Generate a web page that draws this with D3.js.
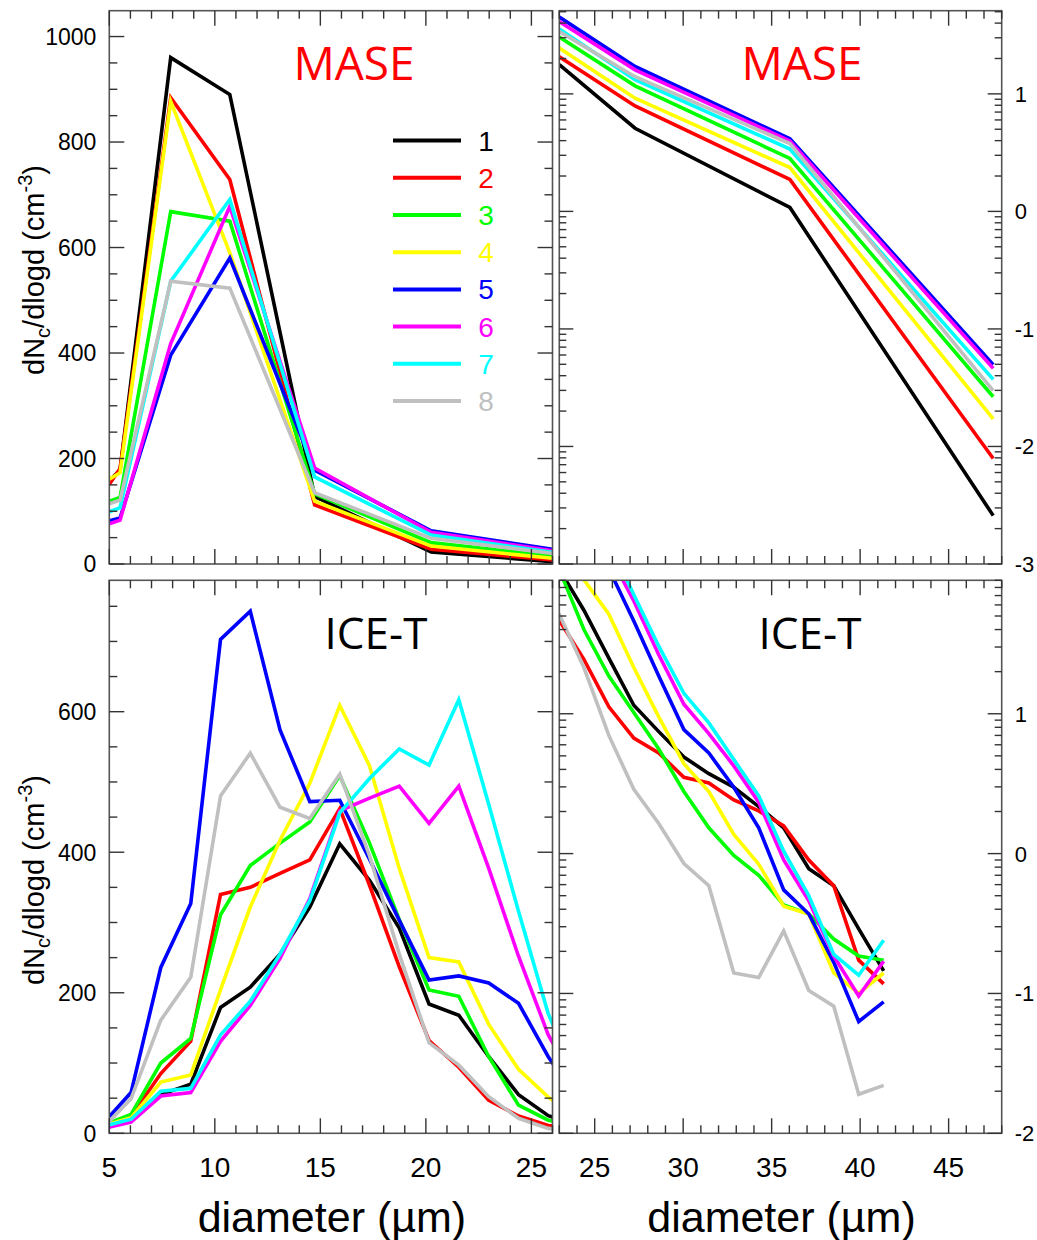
<!DOCTYPE html>
<html lang="en">
<head>
<meta charset="UTF-8" />
<title>MASE / ICE-T size distributions</title>
<style>
  body { margin: 0; background: #fff; }
  svg { display: block; font-family: "Liberation Sans", Arial, sans-serif; }
</style>
</head>
<body>
<svg id="chart"></svg>
<script src="https://d3js.org/d3.v7.min.js"></script>
<script>
const width = 1037, height = 1240;

const seriesNames = ["1", "2", "3", "4", "5", "6", "7", "8"];
const seriesColors = ["#000000", "#ff0000", "#00ff00", "#ffff00", "#0000ff", "#ff00ff", "#00ffff", "#c0c0c0"];

// MASE, linear panel (diameter in um, dNc/dlogd in cm-3)
const maseLinDiam = [5.0, 5.51, 7.91, 10.71, 14.73, 20.25, 26.0];
const maseLin = [
  [158, 178, 960, 890, 128, 23, 4.4],
  [151, 181, 884, 729, 112, 28, 7.6],
  [119, 126, 668, 650, 133, 40.5, 15],
  [161, 173, 877, 590, 119, 34, 10.8],
  [82, 87, 396, 580, 178, 63, 28],
  [76, 83, 418, 678, 182, 60, 25],
  [99, 107, 536, 691, 165, 55, 22],
  [114, 121, 536, 523, 135, 48.7, 20]
];

// MASE, log panel
const maseLogDiam = [23.0, 27.28, 36.03, 47.52];
const maseLog = [
  [17.7, 5.1, 1.08, 0.00258],
  [20.7, 7.9, 1.87, 0.00789],
  [30.4, 11.7, 2.82, 0.0265],
  [24.5, 9.18, 2.36, 0.0172],
  [45.0, 17.1, 4.15, 0.0497],
  [41.2, 16.0, 3.97, 0.0462],
  [35.6, 13.2, 3.39, 0.0372],
  [33.9, 14.0, 3.78, 0.0299]
];

// ICE-T, one set of bins drawn in both panels
const iceDiam = [4.62, 6.03, 7.44, 8.86, 10.27, 11.68, 13.09, 14.5, 15.92, 17.33, 18.74, 20.15, 21.56,
  22.98, 24.39, 25.8, 27.21, 28.62, 30.04, 31.45, 32.86, 34.27, 35.68, 37.1, 38.51, 39.92, 41.33];
const iceVals = [
  [7.4, 17, 55, 70, 179, 208, 255, 322, 412, 360, 292, 184, 168, 109, 55, 25, 11.5, 7.45, 4.9, 3.73, 2.98, 2.17, 1.53, 0.78, 0.59, 0.29, 0.145],
  [7.6, 24, 85, 131, 340, 350, 370, 389, 462, 353, 237, 132, 94, 47, 24.5, 11.2, 6.7, 5.24, 3.51, 3.2, 2.42, 2.02, 1.58, 0.9, 0.59, 0.173, 0.117],
  [10.6, 27, 100, 135, 311, 381, 413, 443, 509, 413, 304, 204, 195, 109, 40, 18.6, 10.2, 5.6, 2.78, 1.53, 0.97, 0.7, 0.43, 0.37, 0.245, 0.185, 0.173],
  [9.7, 22, 73, 83, 204, 322, 417, 498, 609, 523, 377, 250, 244, 155, 91, 51.5, 21.4, 9.5, 4.4, 2.78, 1.37, 0.84, 0.42, 0.37, 0.14, 0.1, 0.14],
  [11, 58, 236, 327, 703, 743, 574, 472, 474, 390, 303, 218, 224, 214, 185, 109, 46, 18.6, 7.7, 5.24, 2.98, 1.53, 0.55, 0.37, 0.167, 0.063, 0.087],
  [6.4, 16, 53, 58, 131, 182, 249, 334, 459, 477, 494, 441, 494, 377, 252, 140, 64, 26.4, 11.7, 7.2, 4.24, 2.33, 0.9, 0.46, 0.185, 0.096, 0.17],
  [9, 20, 60, 64, 140, 188, 255, 331, 456, 505, 547, 524, 617, 468, 316, 170, 71, 30.4, 14, 8.6, 4.7, 2.59, 1.04, 0.5, 0.19, 0.135, 0.24],
  [5.2, 49, 161, 222, 480, 541, 464, 448, 511, 395, 255, 129, 97, 52, 21.4, 7, 2.88, 1.64, 0.85, 0.59, 0.14, 0.13, 0.28, 0.105, 0.081, 0.019, 0.022]
];

const yTicksTop = [0, 200, 400, 600, 800, 1000];
const yTicksBottom = [0, 200, 400, 600];
const xTicksLeft = [5, 10, 15, 20, 25];
const xTicksRight = [25, 30, 35, 40, 45];
const expTicksTop = [1, 0, -1, -2, -3];
const expTicksBottom = [1, 0, -1, -2];

const svg = d3.select("#chart").attr("width", width).attr("height", height);

const panels = [
  { id: "tl", x0: 109.3, x1: 552.5, y0: 10.7, y1: 564, xDom: [5, 26], log: false, yDom: [0, 1049],
    diam: maseLinDiam, vals: maseLin, title: "MASE", titleColor: "#ff0000", titleX: 354, titleSize: 46,
    yLabels: yTicksTop, xLabels: null, yTitleY: 270 },
  { id: "tr", x0: 559.3, x1: 1001.7, y0: 10.7, y1: 564, xDom: [23, 48], log: true, yDom: [0.001, 51],
    diam: maseLogDiam, vals: maseLog, title: "MASE", titleColor: "#ff0000", titleX: 802, titleSize: 46,
    yLabels: expTicksTop, xLabels: null },
  { id: "bl", x0: 109.3, x1: 552.5, y0: 580.3, y1: 1133.3, xDom: [5, 26], log: false, yDom: [0, 787],
    diam: iceDiam, vals: iceVals, title: "ICE-T", titleColor: "#000000", titleX: 376, titleSize: 44,
    yLabels: yTicksBottom, xLabels: xTicksLeft, yTitleY: 880 },
  { id: "br", x0: 559.3, x1: 1001.7, y0: 580.3, y1: 1133.3, xDom: [23, 48], log: true, yDom: [0.01, 90],
    diam: iceDiam, vals: iceVals, title: "ICE-T", titleColor: "#000000", titleX: 810, titleSize: 44,
    yLabels: expTicksBottom, xLabels: xTicksRight }
];

const defs = svg.append("defs");

panels.forEach((p) => {
  const x = d3.scaleLinear().domain(p.xDom).range([p.x0, p.x1]);
  const y = (p.log ? d3.scaleLog() : d3.scaleLinear()).domain(p.yDom).range([p.y1, p.y0]);
  const g = svg.append("g");

  defs.append("clipPath").attr("id", "clip-" + p.id)
    .append("rect").attr("x", p.x0).attr("y", p.y0)
    .attr("width", p.x1 - p.x0).attr("height", p.y1 - p.y0);

  // series lines
  const line = d3.line().x((d) => x(d[0])).y((d) => y(d[1]));
  g.append("g").attr("clip-path", `url(#clip-${p.id})`)
    .selectAll("path")
    .data(p.vals)
    .join("path")
    .attr("fill", "none")
    .attr("stroke", (d, i) => seriesColors[i])
    .attr("stroke-width", 3.6)
    .attr("d", (d) => line(d.map((v, i) => [p.diam[i], v])));

  // frame
  g.append("rect").attr("x", p.x0).attr("y", p.y0)
    .attr("width", p.x1 - p.x0).attr("height", p.y1 - p.y0)
    .attr("fill", "none").attr("stroke", "#555").attr("stroke-width", 1.6);

  const ticks = g.append("g").attr("stroke", "#333").attr("stroke-width", 1.4);

  // x ticks, every 1 um, long every 5
  d3.range(Math.ceil(p.xDom[0]), Math.floor(p.xDom[1]) + 1).forEach((v) => {
    const len = v % 5 === 0 ? 15 : 8;
    const px = x(v);
    ticks.append("line").attr("x1", px).attr("x2", px).attr("y1", p.y1).attr("y2", p.y1 - len);
    ticks.append("line").attr("x1", px).attr("x2", px).attr("y1", p.y0).attr("y2", p.y0 + len);
  });

  // y ticks
  let yt = [];
  if (p.log) {
    const e0 = Math.floor(Math.log10(p.yDom[0])), e1 = Math.ceil(Math.log10(p.yDom[1]));
    d3.range(e0, e1 + 1).forEach((e) => {
      d3.range(1, 10).forEach((m) => {
        const v = m * Math.pow(10, e);
        if (v >= p.yDom[0] && v <= p.yDom[1]) yt.push([v, m === 1 ? 14 : 7]);
      });
    });
  } else {
    yt = d3.range(0, p.yDom[1], 50).map((v) => [v, v % 200 === 0 ? 15 : 8]);
  }
  yt.forEach(([v, len]) => {
    const py = y(v);
    ticks.append("line").attr("x1", p.x0).attr("x2", p.x0 + len).attr("y1", py).attr("y2", py);
    ticks.append("line").attr("x1", p.x1).attr("x2", p.x1 - len).attr("y1", py).attr("y2", py);
  });

  // y tick labels
  if (p.log) {
    g.append("g").selectAll("text").data(p.yLabels).join("text")
      .attr("x", p.x1 + 13).attr("y", (d) => y(Math.pow(10, d)))
      .attr("dy", "0.36em").attr("font-size", 22).attr("fill", "#000")
      .text((d) => d);
  } else {
    g.append("g").selectAll("text").data(p.yLabels).join("text")
      .attr("x", p.x0 - 13).attr("y", (d) => y(d))
      .attr("dy", "0.36em").attr("text-anchor", "end").attr("font-size", 23).attr("fill", "#000")
      .text((d) => d);
    const yt2 = g.append("text")
      .attr("transform", `translate(44,${p.yTitleY}) rotate(-90)`)
      .attr("text-anchor", "middle").attr("font-size", 29).attr("fill", "#000");
    yt2.append("tspan").text("dN");
    yt2.append("tspan").attr("font-size", 20).attr("dy", 6).text("c");
    yt2.append("tspan").attr("dy", -6).text("/dlogd (cm");
    yt2.append("tspan").attr("font-size", 20).attr("dy", -12).text("-3");
    yt2.append("tspan").attr("dy", 12).text(")");
  }

  // x tick labels and title
  if (p.xLabels) {
    g.append("g").selectAll("text").data(p.xLabels).join("text")
      .attr("x", (d) => x(d)).attr("y", p.y1 + 44)
      .attr("text-anchor", "middle").attr("font-size", 28).attr("fill", "#000")
      .text((d) => d);
    g.append("text")
      .attr("x", (p.x0 + p.x1) / 2 + 1).attr("y", 1232)
      .attr("text-anchor", "middle").attr("font-size", 43).attr("fill", "#000")
      .text("diameter (µm)");
  }

  // panel title
  g.append("text")
    .attr("x", p.titleX).attr("y", p.y0 + 69)
    .attr("text-anchor", "middle")
    .attr("font-family", "'Open Sans', sans-serif")
    .attr("font-size", p.titleSize).attr("fill", p.titleColor)
    .text(p.title);
});

// legend in the top-left panel
const legend = svg.append("g").selectAll("g").data(seriesNames).join("g")
  .attr("transform", (d, i) => `translate(0,${140.6 + i * 37.2})`);
legend.append("line")
  .attr("x1", 393).attr("x2", 461).attr("y1", 0).attr("y2", 0)
  .attr("stroke", (d, i) => seriesColors[i]).attr("stroke-width", 4);
legend.append("text")
  .attr("x", 486).attr("y", 10).attr("text-anchor", "middle")
  .attr("font-size", 28).attr("fill", (d, i) => seriesColors[i])
  .text((d) => d);
</script>
</body>
</html>
